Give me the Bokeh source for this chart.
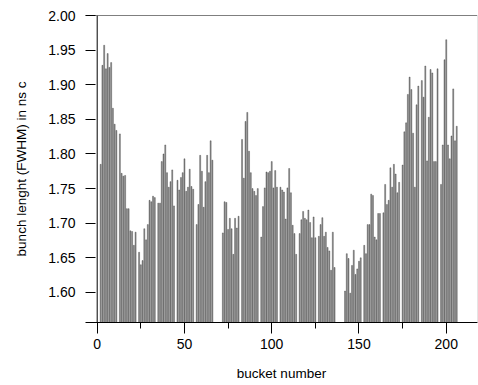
from bokeh.plotting import figure
from bokeh.models import Range1d, LinearAxis, Span, ColumnDataSource, FixedTicker, PrintfTickFormatter
from bokeh.embed import file_html
from bokeh.resources import INLINE

# --- data (bunch length per bucket) ---
batch_first_bucket = [1, 71, 141]   # first (empty) bucket of each batch
trains_per_batch = 6
bunches_per_train = 10

batch1 = [1.785, 1.928, 1.957, 1.923, 1.945, 1.925, 1.932, 1.866, 1.843, 1.834,
          1.829, 1.772, 1.768, 1.769, 1.721, 1.721, 1.689, 1.688, 1.668, 1.687,
          1.658, 1.640, 1.646, 1.692, 1.676, 1.698, 1.733, 1.731, 1.739, 1.737,
          1.729, 1.729, 1.789, 1.800, 1.813, 1.773, 1.752, 1.760, 1.777, 1.725,
          1.762, 1.748, 1.766, 1.773, 1.793, 1.746, 1.752, 1.778, 1.753, 1.749,
          1.698, 1.727, 1.798, 1.775, 1.723, 1.760, 1.798, 1.773, 1.819, 1.791]
batch2 = [1.686, 1.731, 1.730, 1.691, 1.707, 1.692, 1.655, 1.707, 1.693, 1.710,
          1.821, 1.765, 1.847, 1.860, 1.804, 1.773, 1.750, 1.746, 1.740, 1.750,
          1.680, 1.724, 1.751, 1.774, 1.773, 1.775, 1.789, 1.751, 1.776, 1.752,
          1.752, 1.748, 1.745, 1.706, 1.751, 1.779, 1.744, 1.697, 1.685, 1.655,
          1.685, 1.705, 1.717, 1.707, 1.705, 1.719, 1.701, 1.679, 1.709, 1.679,
          1.681, 1.698, 1.708, 1.681, 1.687, 1.665, 1.660, 1.632, 1.687, 1.636]
batch3 = [1.602, 1.656, 1.649, 1.599, 1.639, 1.661, 1.626, 1.634, 1.645, 1.650,
          1.668, 1.656, 1.698, 1.698, 1.742, 1.740, 1.680, 1.676, 1.714, 1.714,
          1.715, 1.756, 1.727, 1.733, 1.780, 1.752, 1.785, 1.771, 1.744, 1.759,
          1.784, 1.832, 1.845, 1.886, 1.911, 1.893, 1.830, 1.752, 1.871, 1.898,
          1.906, 1.882, 1.927, 1.790, 1.853, 1.922, 1.917, 1.789, 1.789, 1.923,
          1.756, 1.813, 1.936, 1.965, 1.813, 1.793, 1.826, 1.894, 1.819, 1.840]

y_ticks = [1.60, 1.65, 1.70, 1.75, 1.80, 1.85, 1.90, 1.95, 2.00]
x_ticks = [0, 50, 100, 150, 200]
x_minor_ticks = [25, 75, 125, 175]

# bucket numbers: in every train of 11 buckets the first one is empty
buckets, lengths = [], []
for start, vals in zip(batch_first_bucket, [batch1, batch2, batch3]):
    i = 0
    for t in range(trains_per_batch):
        for b in range(bunches_per_train):
            buckets.append(start + t * (bunches_per_train + 1) + 1 + b)
            lengths.append(vals[i])
            i += 1

X_MIN, X_MAX = -6.7, 217.9
Y_MIN, Y_MAX = 1.5566, 2.0
src = ColumnDataSource(dict(x=buckets, top=lengths, bottom=[Y_MIN] * len(buckets)))

FONT = "Liberation Sans"

p = figure(width=478, height=385, output_backend="svg", toolbar_location=None,
           x_range=Range1d(X_MIN, X_MAX), y_range=Range1d(Y_MIN, Y_MAX),
           x_axis_location=None, y_axis_location=None,
           min_border_left=85, min_border_right=1, min_border_top=15, min_border_bottom=63)
p.outline_line_color = None
p.xgrid.visible = False
p.ygrid.visible = False
p.background_fill_color = "white"
p.border_fill_color = "white"

p.vbar(x="x", top="top", bottom="bottom", width=0.58, source=src,
       fill_color="#909090", line_color="#2a2a2a", line_width=0.35)

# y axis line sits at bucket 0; top and right frame lines
p.add_layout(Span(location=0, dimension="height", line_color="black", line_width=1))
p.add_layout(Span(location=Y_MAX, dimension="width", line_color="black", line_width=1))
p.add_layout(Span(location=X_MAX, dimension="height", line_color="#cccccc", line_width=1))

# left axis
yax = LinearAxis(ticker=FixedTicker(ticks=y_ticks, minor_ticks=[]),
                 axis_label="bunch lenght (FWHM) in ns c")
yax.axis_line_color = None
yax.major_tick_in = 10
yax.major_tick_out = 0
yax.major_tick_line_color = "black"
yax.major_label_standoff = 10
yax.major_label_text_font = FONT
yax.major_label_text_font_size = "14px"
yax.major_label_text_color = "black"
yax.axis_label_text_font = FONT
yax.axis_label_text_font_size = "13.5px"
yax.axis_label_text_font_style = "normal"
yax.axis_label_text_color = "black"
yax.axis_label_standoff = 16
yax.formatter = PrintfTickFormatter(format="%.2f")
p.add_layout(yax, "left")

# bottom axis
xax = LinearAxis(ticker=FixedTicker(ticks=x_ticks, minor_ticks=x_minor_ticks),
                 axis_label="bucket number")
xax.axis_line_color = "black"
xax.major_tick_in = 0
xax.major_tick_out = 11
xax.minor_tick_in = 0
xax.minor_tick_out = 6
xax.major_tick_line_color = "black"
xax.minor_tick_line_color = "black"
xax.major_label_standoff = 5
xax.major_label_text_font = FONT
xax.major_label_text_font_size = "14px"
xax.major_label_text_color = "black"
xax.axis_label_text_font = FONT
xax.axis_label_text_font_size = "13.5px"
xax.axis_label_text_font_style = "normal"
xax.axis_label_text_color = "black"
xax.axis_label_standoff = 14
p.add_layout(xax, "below")

open("out.html", "w").write(file_html(p, INLINE))
